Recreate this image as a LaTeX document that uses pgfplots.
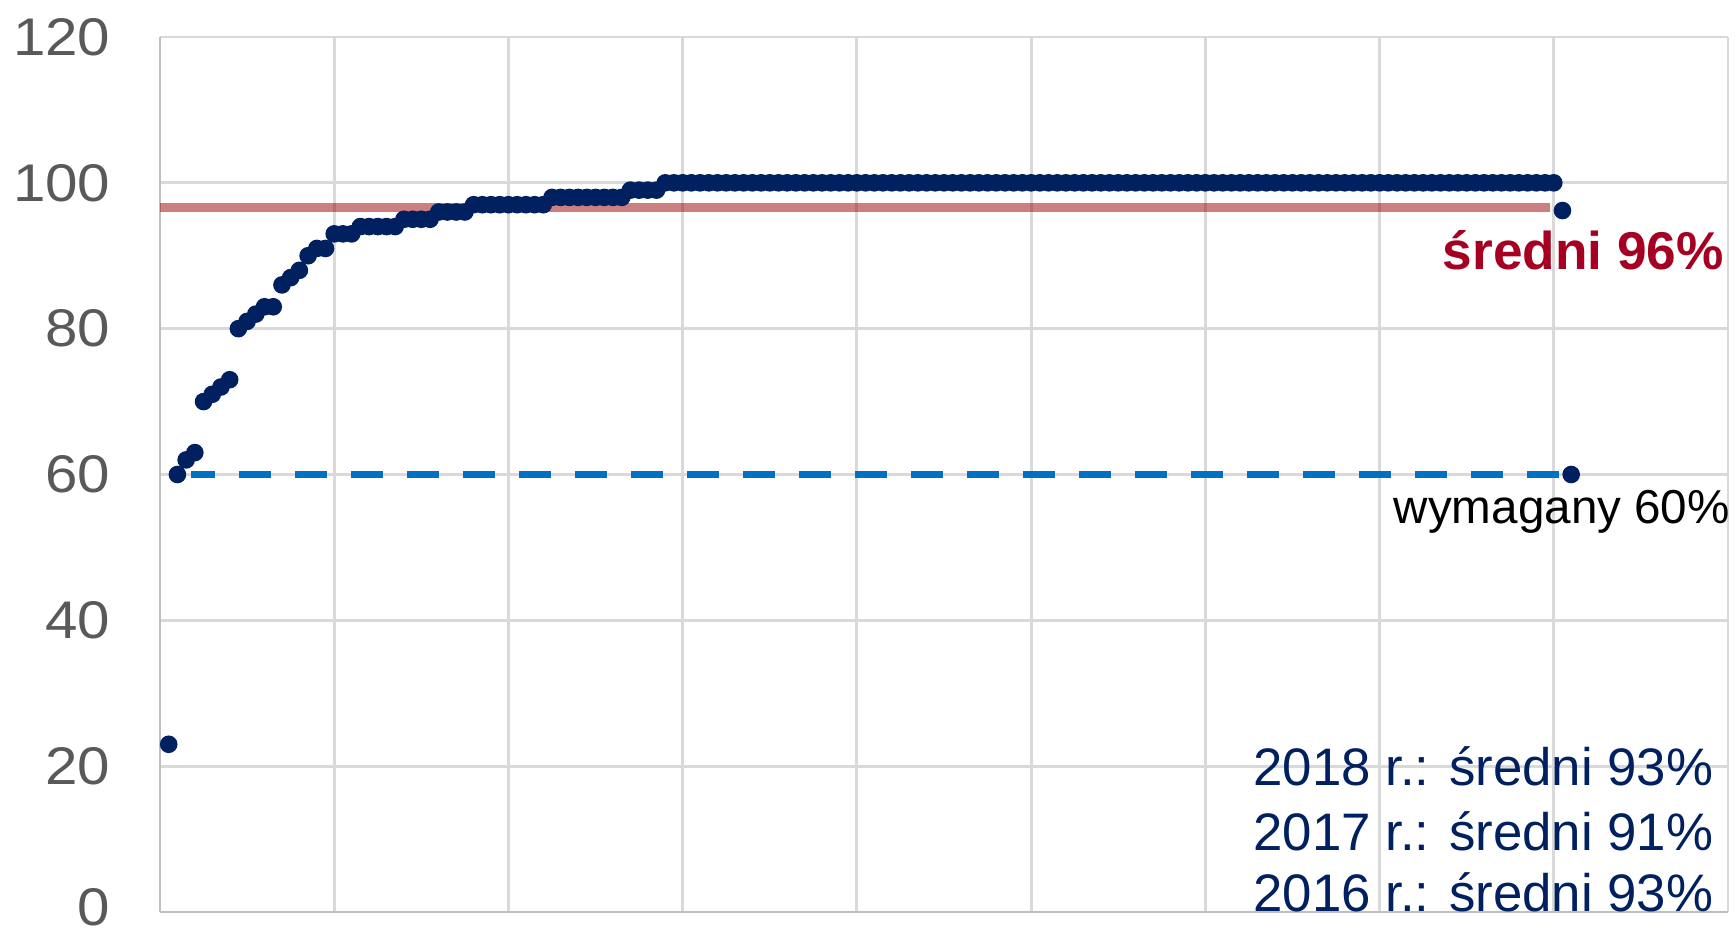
\documentclass[border=0pt]{standalone}
\usepackage{fontspec}
\setmainfont{Liberation Sans}
\newfontfamily\tickfont[FakeStretch=1.1]{Liberation Sans}
\usepackage{pgfplots}
\pgfplotsset{compat=1.18}
\definecolor{navy}{HTML}{002060}
\definecolor{avgred}{RGB}{154,0,0}
\definecolor{txtred}{HTML}{A50021}
\definecolor{reqblue}{HTML}{0070C0}
\definecolor{gridg}{HTML}{D9D9D9}
\definecolor{axisg}{HTML}{BFBFBF}
\definecolor{tickg}{HTML}{595959}
\begin{document}
\begin{tikzpicture}
\useasboundingbox (-40pt,-5pt) rectangle (394pt,228pt);
\begin{axis}[
  width=392pt, height=218.75pt, scale only axis,
  xmin=0, xmax=180, ymin=0, ymax=120,
  xtick={0,20,...,180}, xticklabels={},
  ytick={20,40,...,120},
  extra y ticks={0},
  extra y tick style={grid=none, yticklabel style={yshift=1.3pt}},
  major tick length=0pt,
  grid=major,
  grid style={color=gridg, line width=0.7pt},
  axis x line=bottom, axis y line=left,
  axis line style={draw=axisg, line width=0.7pt, -},
  yticklabel style={inner sep=0pt, xshift=-12.2pt, font=\tickfont\fontsize{13.25}{15}\selectfont, text=tickg},
  /pgf/number format/assume math mode=true,
  clip=false,
]
% required level (dashed)
\addplot[reqblue, line width=1.75pt, dash pattern=on 8pt off 6pt, dash phase=2pt] coordinates {(3.56,60) (160.6,60)};
% schools results
\addplot[only marks, mark=*, mark size=2pt, color=navy] coordinates {
(1,23)(2,60)(3,62)(4,63)(5,70)(6,71)(7,72)(8,73)(9,80)(10,81)
(11,82)(12,83)(13,83)(14,86)(15,87)(16,88)(17,90)(18,91)(19,91)(20,93)
(21,93)(22,93)(23,94)(24,94)(25,94)(26,94)(27,94)(28,95)(29,95)(30,95)
(31,95)(32,96)(33,96)(34,96)(35,96)(36,97)(37,97)(38,97)(39,97)(40,97)
(41,97)(42,97)(43,97)(44,97)(45,98)(46,98)(47,98)(48,98)(49,98)(50,98)
(51,98)(52,98)(53,98)(54,99)(55,99)(56,99)(57,99)(58,100)(59,100)(60,100)
(61,100)(62,100)(63,100)(64,100)(65,100)(66,100)(67,100)(68,100)(69,100)(70,100)
(71,100)(72,100)(73,100)(74,100)(75,100)(76,100)(77,100)(78,100)(79,100)(80,100)
(81,100)(82,100)(83,100)(84,100)(85,100)(86,100)(87,100)(88,100)(89,100)(90,100)
(91,100)(92,100)(93,100)(94,100)(95,100)(96,100)(97,100)(98,100)(99,100)(100,100)
(101,100)(102,100)(103,100)(104,100)(105,100)(106,100)(107,100)(108,100)(109,100)(110,100)
(111,100)(112,100)(113,100)(114,100)(115,100)(116,100)(117,100)(118,100)(119,100)(120,100)
(121,100)(122,100)(123,100)(124,100)(125,100)(126,100)(127,100)(128,100)(129,100)(130,100)
(131,100)(132,100)(133,100)(134,100)(135,100)(136,100)(137,100)(138,100)(139,100)(140,100)
(141,100)(142,100)(143,100)(144,100)(145,100)(146,100)(147,100)(148,100)(149,100)(150,100)
(151,100)(152,100)(153,100)(154,100)(155,100)(156,100)(157,100)(158,100)(159,100)(160,100)
};
% end markers for average and required
\addplot[only marks, mark=*, mark size=2pt, color=navy] coordinates {(161,96.2)(162,60)};
% average line (semi-transparent, over the dots)
\addplot[avgred, opacity=0.5, line width=2.2pt] coordinates {(0,96.6) (159.6,96.6)};
% labels
\node[anchor=base east, inner sep=0pt, text=txtred, font=\bfseries\fontsize{13.3}{15}\selectfont] at (axis cs:179.6,88.07) {średni 96\%};
\node[anchor=base east, inner sep=0pt, text=black, font=\fontsize{11.9}{14}\selectfont] at (axis cs:180.3,53.3) {wymagany 60\%};
\node[anchor=base east, inner sep=0pt, text=navy, font=\fontsize{13.2}{15}\selectfont] at (axis cs:178.4,17.4) {2018 r.: średni 93\%};
\node[anchor=base east, inner sep=0pt, text=navy, font=\fontsize{13.2}{15}\selectfont] at (axis cs:178.4,8.5) {2017 r.: średni 91\%};
\node[anchor=base east, inner sep=0pt, text=navy, font=\fontsize{13.2}{15}\selectfont] at (axis cs:178.4,0.05) {2016 r.: średni 93\%};
\end{axis}
\end{tikzpicture}
\end{document}
